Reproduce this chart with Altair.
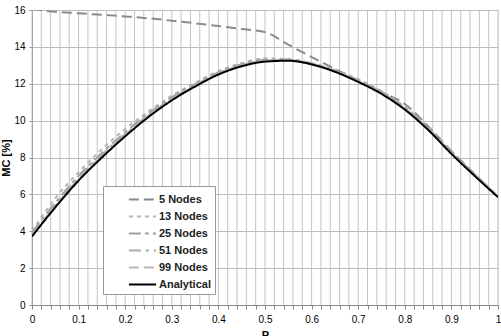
import altair as alt
import pandas as pd

P = [0.0, 0.05, 0.1, 0.15, 0.2, 0.25, 0.3, 0.35, 0.4, 0.45, 0.5,
     0.55, 0.6, 0.65, 0.7, 0.75, 0.8, 0.85, 0.9, 0.95, 1.0]

series_names = ["5 Nodes", "13 Nodes", "25 Nodes", "51 Nodes", "99 Nodes", "Analytical"]

n5 = [16.05, 15.9, 15.82, 15.74, 15.65, 15.55, 15.42, 15.28, 15.13, 14.97, 14.8,
      14.12, 13.45, 12.8, 12.18, 11.55, 10.9, 9.7, 8.35, 7.1, 5.85]
n13 = [4.0, 5.8, 7.2, 8.45, 9.55, 10.5, 11.35, 12.05, 12.68, 13.12, 13.38,
       13.33, 13.1, 12.75, 12.25, 11.6, 10.75, 9.65, 8.35, 7.1, 5.88]
n25 = [3.92, 5.55, 7.0, 8.25, 9.37, 10.38, 11.26, 11.98, 12.62, 13.06, 13.3,
       13.31, 13.12, 12.72, 12.18, 11.54, 10.7, 9.6, 8.3, 7.08, 5.9]
n51 = [3.85, 5.45, 6.9, 8.15, 9.28, 10.3, 11.2, 11.93, 12.57, 13.02, 13.26,
       13.29, 13.1, 12.7, 12.15, 11.5, 10.66, 9.56, 8.26, 7.05, 5.88]
n99 = [3.78, 5.38, 6.83, 8.08, 9.22, 10.26, 11.15, 11.9, 12.54, 12.99, 13.23,
       13.27, 13.08, 12.68, 12.13, 11.48, 10.63, 9.53, 8.23, 7.03, 5.87]
analytical = [3.72, 5.3, 6.75, 8.0, 9.15, 10.2, 11.1, 11.85, 12.5, 12.95, 13.2,
              13.25, 13.05, 12.65, 12.1, 11.45, 10.6, 9.5, 8.2, 7.0, 5.85]

x_grid = [round(i * 0.02, 2) for i in range(51)]
y_ticks = [0, 2, 4, 6, 8, 10, 12, 14, 16]

rows = []
for name, vals in zip(series_names, [n5, n13, n25, n51, n99, analytical]):
    for p, v in zip(P, vals):
        rows.append({"P": p, "MC": v, "Series": name, "order": series_names.index(name)})
df = pd.DataFrame(rows)
grid_df = pd.DataFrame({"P": x_grid})

colors = ["#8a8a8a", "#b4b4b4", "#a0a0a0", "#aaaaaa", "#bababa", "#000000"]
dashes = [[10, 5], [4, 4], [12, 4, 4, 4], [12, 5, 3, 5], [10, 5], [1, 0]]
widths = [2, 2, 2, 2, 2, 2.2]

font = "Liberation Sans"

x_enc = alt.X("P:Q", scale=alt.Scale(domain=[0, 1], nice=False),
              axis=alt.Axis(values=x_grid, title="P", grid=False,
                            labelExpr="abs(datum.value*10 - round(datum.value*10)) < 0.001 ? format(datum.value, '.1~f') : ''",
                            labelOverlap=False, labelPadding=5, titlePadding=5,
                            tickSize=4, labelFlush=False))

grid = alt.Chart(grid_df).mark_rule(color="#c4c4c4", strokeWidth=1, opacity=1).encode(
    x=x_enc, y=alt.value(0), y2=alt.value(295))

lines = alt.Chart(df).mark_line(clip=True, interpolate="monotone").encode(
    x=x_enc,
    y=alt.Y("MC:Q", scale=alt.Scale(domain=[0, 16], nice=False),
            axis=alt.Axis(values=y_ticks, title="MC [%]", grid=True, gridColor="#bdbdbd",
                          tickSize=3, labelPadding=4, titlePadding=2)),
    color=alt.Color("Series:N", sort=series_names,
                    scale=alt.Scale(domain=series_names, range=colors),
                    legend=alt.Legend(title=None, orient="none", legendX=71, legendY=176,
                                      symbolType="M-1.6,0H1.6", symbolSize=289,
                                      symbolStrokeWidth=2, symbolOffset=26,
                                      labelFont=font, labelFontSize=11,
                                      labelFontWeight="bold", labelColor="#222",
                                      fillColor="white", strokeColor="#999",
                                      padding=4, rowPadding=2, labelOffset=7)),
    strokeDash=alt.StrokeDash("Series:N", sort=series_names,
                              scale=alt.Scale(domain=series_names, range=dashes),
                              legend=None),
    strokeWidth=alt.StrokeWidth("Series:N", sort=series_names,
                                scale=alt.Scale(domain=series_names, range=widths),
                                legend=None),
    order=alt.Order("order:Q", sort="ascending"),
    detail="Series:N",
)

chart = alt.layer(grid, lines).properties(
    width=466, height=295,
    autosize=alt.AutoSizeParams(type="none"),
    padding={"left": 32, "top": 10, "right": 3, "bottom": 31},
).configure_axis(
    labelFont=font, labelFontSize=11, labelFontWeight="bold", labelColor="#222",
    titleFont=font, titleFontSize=11, titleFontWeight="bold", titleColor="#222",
    domainColor="#999", tickColor="#999", gridWidth=1,
).configure_view(stroke="#aaaaaa", strokeWidth=1).configure(background="white")

chart.save("out.html", embed_options={"renderer": "svg", "actions": False})
